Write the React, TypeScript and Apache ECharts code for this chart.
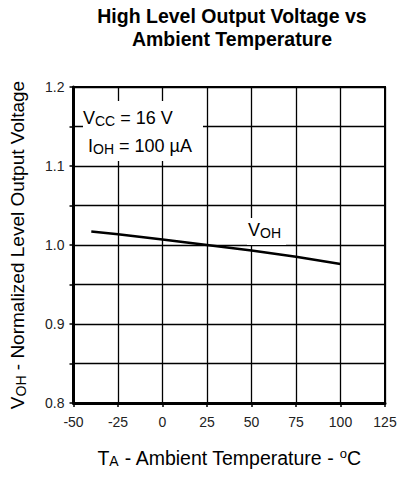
import React, { useEffect, useRef } from "react";
import * as echarts from "echarts";

const temperatures = [-40, -25, 0, 25, 50, 75, 100];
const vohNormalized = [1.017, 1.0135, 1.007, 1.0, 0.993, 0.985, 0.976];

const xTicks = { min: -50, max: 125, interval: 25 };
const yTicks = { min: 0.8, max: 1.2, interval: 0.05 };

const FONT = "'Liberation Sans', Arial, Helvetica, sans-serif";

const sub = (size: number, color: string, fillKey: "color" | "fill") => ({
  fontSize: size,
  [fillKey]: color,
  fontFamily: FONT,
  verticalAlign: "middle",
  padding: [6, 0, 0, 0],
});

export default function App() {
  const ref = useRef<HTMLDivElement>(null);
  useEffect(() => {
    if (!ref.current) return;
    const chart = echarts.init(ref.current, undefined, { renderer: "svg" });
    const data = temperatures.map((t, i) => [t, vohNormalized[i]]);
    chart.setOption({
      animation: false,
      backgroundColor: "#ffffff",
      textStyle: { fontFamily: FONT },
      grid: {
        left: 69,
        right: 15,
        top: 87,
        bottom: 74,
        show: true,
        borderColor: "#000",
        borderWidth: 2,
        backgroundColor: "transparent",
      },
      xAxis: {
        type: "value",
        min: xTicks.min,
        max: xTicks.max,
        interval: xTicks.interval,
        axisLine: { show: true, onZero: false, lineStyle: { color: "#000", width: 3 } },
        axisTick: { show: true, length: 4, lineStyle: { color: "#000", width: 1.5 } },
        axisLabel: { color: "#222", fontSize: 14, margin: 12, fontFamily: FONT },
        splitLine: { show: true, lineStyle: { color: "#000", width: 1.3 } },
        name: "{m|T}{s|A}{m| - Ambient Temperature - }{u|o}{m|C}",
        nameLocation: "middle",
        nameGap: 43,
        nameTextStyle: {
          fontFamily: FONT,
          rich: {
            m: { fontSize: 19.5, color: "#000", fontFamily: FONT, verticalAlign: "middle", lineHeight: 24 },
            s: sub(14, "#000", "color"),
            u: { fontSize: 13, color: "#000", fontFamily: FONT, verticalAlign: "middle", padding: [0, 0, 9, 0] },
          },
        },
      },
      yAxis: {
        type: "value",
        min: yTicks.min,
        max: yTicks.max,
        interval: yTicks.interval,
        axisLine: { show: true, onZero: false, lineStyle: { color: "#000", width: 3 } },
        axisTick: { show: true, length: 4, lineStyle: { color: "#000", width: 1.5 } },
        axisLabel: {
          color: "#222",
          fontSize: 14,
          margin: 9,
          fontFamily: FONT,
          formatter: (v: number) => {
            const r = Math.round(v * 100);
            return r % 10 === 0 ? (r / 100).toFixed(1) : "";
          },
        },
        splitLine: { show: true, lineStyle: { color: "#000", width: 1.3 } },
        name: "{m|V}{s|OH}{m| - Normalized Level Output Voltage}",
        nameLocation: "middle",
        nameGap: 44,
        nameRotate: 90,
        nameTextStyle: {
          fontFamily: FONT,
          rich: {
            m: { fontSize: 19, color: "#000", fontFamily: FONT, verticalAlign: "middle", lineHeight: 24 },
            s: sub(14, "#000", "color"),
          },
        },
      },
      series: [
        {
          type: "line",
          data,
          smooth: false,
          showSymbol: false,
          lineStyle: { color: "#000", width: 2.5 },
          z: 5,
        },
      ],
      graphic: [
        {
          type: "text",
          style: {
            x: 232,
            y: 27,
            text: "High Level Output Voltage vs\nAmbient Temperature",
            textAlign: "center",
            textVerticalAlign: "middle",
            font: `bold 19.5px ${FONT}`,
            fill: "#000",
            lineHeight: 23,
          },
        },
        {
          type: "rect",
          z: 50,
          shape: { x: 83, y: 101, width: 120, height: 60 },
          style: { fill: "#fff" },
        },
        {
          type: "text",
          z: 51,
          style: {
            x: 83,
            y: 104,
            text: "{m|V}{s|CC}{m| = 16 V}\n{m| I}{s|OH}{m| = 100 µA}",
            fill: "#000",
            rich: {
              m: { fontSize: 18, fill: "#000", fontFamily: FONT, verticalAlign: "middle", lineHeight: 28 },
              s: sub(14, "#000", "fill"),
            },
          },
        },
        {
          type: "rect",
          z: 50,
          shape: { x: 247, y: 218, width: 39, height: 27 },
          style: { fill: "#fff" },
        },
        {
          type: "text",
          z: 51,
          style: {
            x: 248,
            y: 217,
            text: "{m|V}{s|OH}",
            fill: "#000",
            rich: {
              m: { fontSize: 18, fill: "#000", fontFamily: FONT, verticalAlign: "middle", lineHeight: 25 },
              s: sub(14, "#000", "fill"),
            },
          },
        },
      ],
    });
    return () => chart.dispose();
  }, []);
  return (
    <div
      ref={ref}
      style={{ position: "absolute", left: 0, top: 0, width: 400, height: 477 }}
    />
  );
}
